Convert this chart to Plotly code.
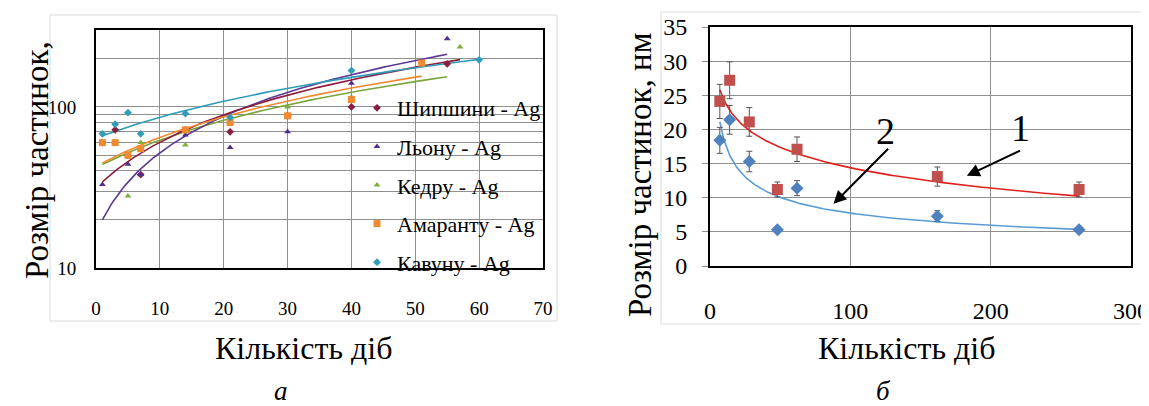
import numpy as np
import plotly.graph_objects as go

# ---------------- data: panel a (log axis) ----------------
days_shypshyny = [1, 3, 5, 7, 14, 21, 30, 40, 55]
size_shypshyny = [60, 72, 50, 38, 72, 70, 88, 100, 185]
days_lonu = [1, 3, 5, 7, 14, 21, 30, 40, 55]
size_lonu = [33, 60, 44, 38, 67, 56, 70, 140, 265]
days_kedru = [1, 3, 5, 7, 14, 21, 30, 40, 57]
size_kedru = [60, 60, 28, 60, 58, 82, 100, 115, 235]
days_amarantu = [1, 3, 5, 7, 14, 21, 30, 40, 51]
size_amarantu = [60, 60, 50, 55, 72, 80, 88, 111, 187]
days_kavunu = [1, 3, 5, 7, 14, 21, 40, 60]
size_kavunu = [68, 78, 92, 68, 91, 86, 168, 196]
names_a = ["Шипшини - Ag", "Льону - Ag", "Кедру - Ag", "Амаранту - Ag", "Кавуну - Ag"]
xticks_a = [0, 10, 20, 30, 40, 50, 60, 70]
ygrid_a = [10, 20, 30, 40, 50, 60, 70, 80, 90, 100, 200, 300]
ylabels_a = ["10", "", "", "", "", "", "", "", "", "100", "", ""]

# ---------------- data: panel б ----------------
days_b = [7, 14, 28, 48, 62, 162, 263]
size_1 = [24.1, 27.2, 21.1, 11.2, 17.1, 13.1, 11.2]
err_1 = [2.5, 2.7, 2.1, 1.1, 1.8, 1.4, 1.1]
size_2 = [18.4, 21.4, 15.3, 5.3, 11.4, 7.3, 5.3]
err_2 = [1.9, 2.1, 1.5, 0.4, 1.1, 0.8, 0.4]

SERIF = "Liberation Serif"

fig = go.Figure()

series_a = [
    (days_shypshyny, size_shypshyny, "#8B1E3F", "diamond", 6, "#7AA63A"),
    (days_lonu, size_lonu, "#4E2D8C", "triangle-up", 6, "#5A3A96"),
    (days_kedru, size_kedru, "#7DAE3C", "triangle-up", 6, "#8B1E3F"),
    (days_amarantu, size_amarantu, "#F08A30", "square", 7, "#F08A30"),
    (days_kavunu, size_kavunu, "#2E9DB8", "diamond", 6, "#2E9DB8"),
]

# linear trendlines (least squares on the data), drawn first
for xs, ys, mc, sym, ms, lc in series_a:
    k, c = np.polyfit(xs, ys, 1)
    xx = np.linspace(min(xs), max(xs), 200)
    fig.add_trace(go.Scatter(x=xx, y=k * xx + c, mode="lines",
                             line=dict(color=lc, width=1.6),
                             showlegend=False, hoverinfo="skip",
                             xaxis="x", yaxis="y"))

for i, (xs, ys, mc, sym, ms, lc) in enumerate(series_a):
    fig.add_trace(go.Scatter(x=xs, y=ys, mode="markers", name=names_a[i],
                             legendgroup=f"g{i}",
                             marker=dict(color=mc, symbol=sym, size=ms),
                             xaxis="x", yaxis="y"))

# ---------------- panel б ----------------
xb = np.linspace(min(days_b), max(days_b), 300)
a1, b1 = np.polyfit(np.log(days_b), size_1, 1)          # logarithmic trend
p2, q2 = np.polyfit(np.log(days_b), np.log(size_2), 1)  # power trend
fig.add_trace(go.Scatter(x=xb, y=a1 * np.log(xb) + b1, mode="lines",
                         line=dict(color="#E0201E", width=1.6),
                         showlegend=False, hoverinfo="skip", xaxis="x2", yaxis="y2"))
fig.add_trace(go.Scatter(x=xb, y=np.exp(q2) * xb ** p2, mode="lines",
                         line=dict(color="#5B9BD5", width=1.6),
                         showlegend=False, hoverinfo="skip", xaxis="x2", yaxis="y2"))
fig.add_trace(go.Scatter(x=days_b, y=size_1, mode="markers", showlegend=False,
                         marker=dict(color="#C0504D", symbol="square", size=11),
                         error_y=dict(type="data", array=err_1, color="#555555",
                                      thickness=1, width=3),
                         xaxis="x2", yaxis="y2"))
fig.add_trace(go.Scatter(x=days_b, y=size_2, mode="markers", showlegend=False,
                         marker=dict(color="#4F81BD", symbol="diamond", size=10),
                         error_y=dict(type="data", array=err_2, color="#555555",
                                      thickness=1, width=3),
                         xaxis="x2", yaxis="y2"))

# page body has an 8 px margin: lay out in page pixels, shifted by it
OFF = 8
W, H = 1149 - OFF, 406 - OFF
def px(x): return (x - OFF) / W
def py(y): return (H - (y - OFF)) / H

axis_common = dict(showline=True, linecolor="black", linewidth=2, mirror=True,
                   showgrid=True, gridcolor="#8f8f8f", gridwidth=1, zeroline=False,
                   automargin=False)

fig.update_layout(
    width=W, height=H, margin=dict(l=0, r=0, t=0, b=0, pad=0, autoexpand=False),
    paper_bgcolor="white", plot_bgcolor="white",
    font=dict(family=SERIF, color="black"),
    xaxis=dict(domain=[px(96), px(543)], range=[0, 70], tickvals=xticks_a,
               anchor="y", ticks="", ticklabelstandoff=22,
               tickfont=dict(family=SERIF, size=19), **axis_common),
    yaxis=dict(domain=[py(268), py(30)], type="log", range=[1, np.log10(300)],
               tickvals=ygrid_a, ticktext=ylabels_a, anchor="x", ticks="",
               ticklabelstandoff=14, tickfont=dict(family=SERIF, size=19),
               **axis_common),
    xaxis2=dict(domain=[px(710), px(1131)], range=[0, 300], dtick=100,
                anchor="y2", ticks="", ticklabelstandoff=22,
                tickfont=dict(family=SERIF, size=24), **axis_common),
    yaxis2=dict(domain=[py(266), py(27)], range=[0, 35], dtick=5,
                anchor="x2", ticks="outside", ticklen=6, tickcolor="#8f8f8f",
                ticklabelstandoff=10, tickfont=dict(family=SERIF, size=24),
                **axis_common),
    legend=dict(x=px(357), y=py(87), xanchor="left", yanchor="top",
                bgcolor="rgba(0,0,0,0)", tracegroupgap=7, itemwidth=30,
                font=dict(family=SERIF, size=22)),
    shapes=[
        dict(type="rect", xref="paper", yref="paper", x0=px(50), x1=px(557),
             y0=py(321), y1=py(15), line=dict(color="#d9d9d9", width=1), layer="below"),
        dict(type="rect", xref="paper", yref="paper", x0=px(661), x1=px(1160),
             y0=py(324), y1=py(12), line=dict(color="#d9d9d9", width=1), layer="below"),
    ],
)

ann = [
    dict(text="Розмір частинок,", x=px(37), y=py(160), textangle=-90, size=33),
    dict(text="Розмір частинок, нм", x=px(640), y=py(175), textangle=-90, size=33),
    dict(text="Кількість діб", x=px(303), y=py(348), textangle=0, size=32),
    dict(text="Кількість діб", x=px(906), y=py(348), textangle=0, size=32),
    dict(text="<i>а</i>", x=px(281), y=py(391), textangle=0, size=27),
    dict(text="<i>б</i>", x=px(884), y=py(391), textangle=0, size=27),
]
for a in ann:
    fig.add_annotation(text=a["text"], x=a["x"], y=a["y"], xref="paper", yref="paper",
                       showarrow=False, textangle=a["textangle"],
                       font=dict(family=SERIF, size=a["size"], color="black"),
                       xanchor="center", yanchor="middle")

# arrows with labels on panel б
fig.add_annotation(x=183, y=13.2, ax=222, ay=17.0, xref="x2", yref="y2",
                   axref="x2", ayref="y2", showarrow=True, arrowhead=2,
                   arrowsize=1.3, arrowwidth=2, arrowcolor="black", text="")
fig.add_annotation(x=88, y=9.1, ax=128, ay=17.4, xref="x2", yref="y2",
                   axref="x2", ayref="y2", showarrow=True, arrowhead=2,
                   arrowsize=1.3, arrowwidth=2, arrowcolor="black", text="")
fig.add_annotation(x=221, y=20.2, xref="x2", yref="y2", text="1", showarrow=False,
                   font=dict(family=SERIF, size=38, color="black"))
fig.add_annotation(x=125, y=19.8, xref="x2", yref="y2", text="2", showarrow=False,
                   font=dict(family=SERIF, size=38, color="black"))

fig.write_html("out.html")
